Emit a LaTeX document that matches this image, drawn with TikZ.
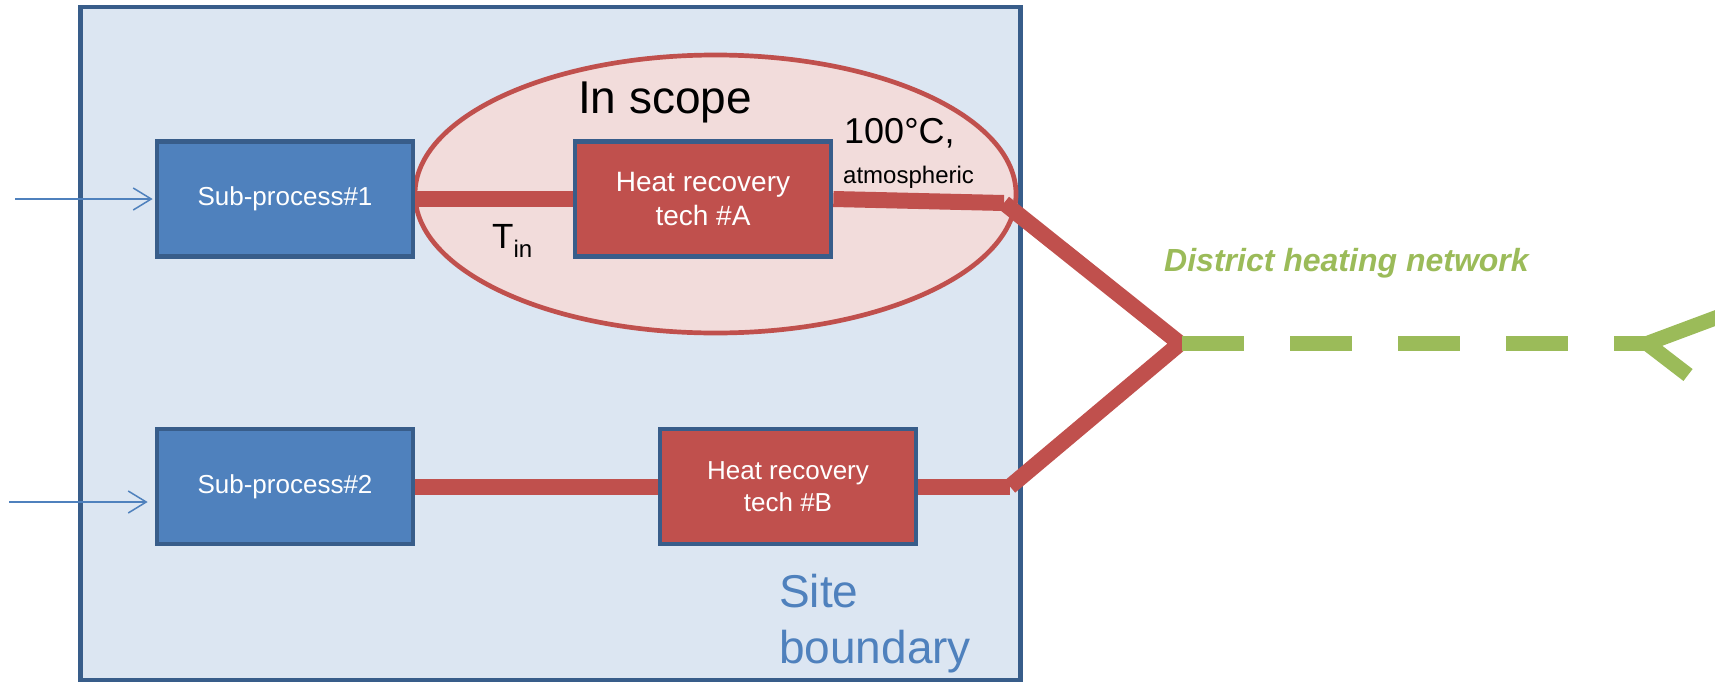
\documentclass[tikz,border=0pt]{standalone}
\usepackage{fontspec}
\setmainfont{Liberation Sans}
\usetikzlibrary{shapes.geometric,arrows.meta}
\definecolor{siteFill}{HTML}{DCE6F2}
\definecolor{darkBlue}{HTML}{385D8A}
\definecolor{boxBlue}{HTML}{4F81BD}
\definecolor{boxRed}{HTML}{C0504D}
\definecolor{scopeFill}{HTML}{F2DCDB}
\definecolor{netGreen}{HTML}{9BBB59}
\begin{document}
\begin{tikzpicture}[x=1pt,y=-1pt,
  subbox/.style={draw=darkBlue, fill=boxBlue, line width=4.7pt, minimum width=256pt, minimum height=115pt, inner sep=0pt, text=white, font=\fontsize{26}{31}\selectfont},
  hrbox/.style={draw=darkBlue, fill=boxRed, line width=4.7pt, minimum width=256pt, minimum height=115pt, inner sep=0pt, text=white, align=center},
  pipe/.style={draw=boxRed, line width=16pt},
  greenline/.style={draw=netGreen, line width=15pt},
  inarrow/.style={draw=boxBlue, line width=1.5pt, -{Straight Barb[length=18pt,width=22pt]}},
  label/.style={inner sep=0pt}
]
\useasboundingbox (0,0) rectangle (1715,683);
% site boundary
\node[draw=darkBlue, fill=siteFill, line width=4.5pt, minimum width=940pt, minimum height=673pt, inner sep=0pt] (site) at (550.5,343.5) {};
% scope ellipse
\node[ellipse, draw=boxRed, fill=scopeFill, line width=4.7pt, minimum width=601pt, minimum height=278pt, inner sep=0pt] (scope) at (715.5,194) {};
% boxes
\node[subbox] (sub1) at (285,199) {Sub-process\#1};
\node[hrbox, font=\fontsize{28}{34}\selectfont] (hra) at (703,199) {Heat recovery\\tech \#A};
\node[subbox] (sub2) at (285,486.5) {Sub-process\#2};
\node[hrbox, font=\fontsize{26}{32}\selectfont] (hrb) at (788,486.5) {Heat recovery\\tech \#B};
% pipe coordinates
\coordinate (a1) at (1004,203);
\coordinate (junc) at (1180,343.5);
\coordinate (b1) at (1010,486.5);
\coordinate (g0) at (1182,343.5);
\coordinate (f0) at (1647,343.5);
\coordinate (f1) at (1718,317);
\coordinate (f2) at (1688,375);
% pipes
\draw[pipe] (sub1.east) -- (hra.west);
\draw[pipe] (hra.east) -- (a1);
\draw[pipe, line join=bevel] (a1) -- (junc) -- (b1);
\draw[pipe] (hrb.east) -- (b1);
\draw[pipe] (sub2.east) -- (hrb.west);
% district heating network
\draw[greenline, dash pattern=on 62pt off 46pt] (g0) -- (f0);
\draw[greenline, line join=miter] (f1) -- (f0) -- (f2);
% input arrows
\coordinate (in1) at (15,199);
\coordinate (in2) at (9,502);
\draw[inarrow, shorten >=2pt] (in1) -- (sub1.west);
\draw[inarrow, shorten >=7pt] (in2) -- (in2 -| sub2.west);
% labels
\node[label, anchor=base, font=\fontsize{46}{55}\selectfont] (inscope) at (665,113) {In scope};
\node[label, anchor=base west, font=\fontsize{36}{43}\selectfont] (temp) at (844,143) {100°C,};
\node[label, anchor=base west, font=\fontsize{24}{29}\selectfont] (atm) at (843,183) {atmospheric};
\node[label, anchor=base west, font=\fontsize{35}{42}\selectfont] (tin) at (492,248) {T\raisebox{-9pt}{\fontsize{24}{29}\selectfont in}};
\node[label, anchor=base west, text=boxBlue, font=\fontsize{46}{56}\selectfont] (sitelabel) at (779,607) {\parbox[t]{250pt}{Site\\boundary}};
\node[label, anchor=base west, text=netGreen, font=\fontsize{32}{38}\selectfont\bfseries\itshape] (dhn) at (1164,271) {District heating network};
\end{tikzpicture}
\end{document}
